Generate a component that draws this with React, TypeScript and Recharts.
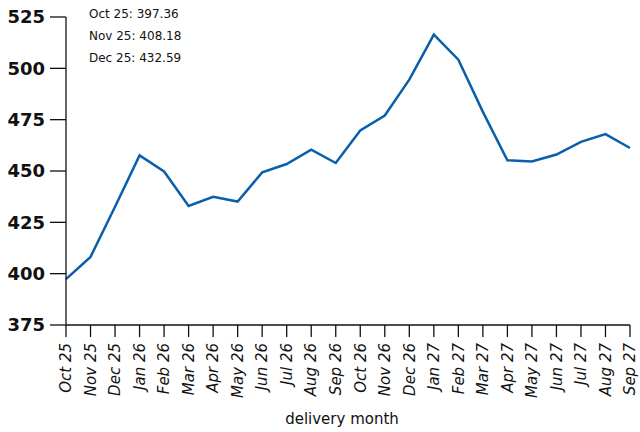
import React from 'react';
import { LineChart, Line, XAxis, YAxis } from 'recharts';

const months = [
  'Oct 25', 'Nov 25', 'Dec 25', 'Jan 26', 'Feb 26', 'Mar 26', 'Apr 26', 'May 26',
  'Jun 26', 'Jul 26', 'Aug 26', 'Sep 26', 'Oct 26', 'Nov 26', 'Dec 26', 'Jan 27',
  'Feb 27', 'Mar 27', 'Apr 27', 'May 27', 'Jun 27', 'Jul 27', 'Aug 27', 'Sep 27',
];
const prices = [
  397.36, 408.18, 432.59, 457.6, 449.8, 433.0, 437.4, 435.1,
  449.3, 453.4, 460.4, 453.9, 469.7, 477.0, 494.5, 516.4,
  504.2, 478.8, 455.2, 454.6, 458.0, 464.2, 468.0, 461.2,
];
const yTicks = [375, 400, 425, 450, 475, 500, 525];
const annotatedCount = 3;

const data = months.map((m, i) => ({ month: m, price: prices[i] }));
const FONT = '"DejaVu Sans", sans-serif';

const XTick = (props: any) => {
  const { x, y, payload } = props;
  return (
    <text
      x={x}
      y={y}
      dy="0.35em"
      textAnchor="end"
      transform={`rotate(-90, ${x}, ${y})`}
      fontSize={15}
      fontStyle="italic"
      fontFamily={FONT}
      fill="#111"
    >
      {payload.value}
    </text>
  );
};

export default function App() {
  return (
    <div style={{ position: 'fixed', left: 0, top: 0, width: 640, height: 432, background: '#fff' }}>
      <LineChart
        width={640}
        height={432}
        data={data}
        margin={{ top: 17, right: 10, bottom: 0, left: 0 }}
      >
        <XAxis
          dataKey="month"
          interval={0}
          height={107}
          tickSize={12}
          tickMargin={6}
          tick={<XTick />}
          stroke="#111"
          strokeWidth={1.3}
          padding={{ left: 0, right: 0 }}
          label={{
            value: 'delivery month',
            position: 'insideBottom',
            offset: 8,
            dx: -6,
            fontSize: 15,
            fontFamily: FONT,
            fill: '#111',
          }}
        />
        <YAxis
          domain={[375, 525]}
          ticks={yTicks}
          width={66}
          tickSize={16}
          tickMargin={5}
          stroke="#111"
          strokeWidth={1.3}
          tick={{ fontSize: 18, fontWeight: 'bold', fontFamily: FONT, fill: '#111' }}
        />
        <Line
          type="linear"
          dataKey="price"
          stroke="#0a5fab"
          strokeWidth={2.5}
          dot={false}
          activeDot={false}
          isAnimationActive={false}
        />
      </LineChart>
      {months.slice(0, annotatedCount).map((m, i) => (
        <div
          key={m}
          style={{
            position: 'absolute',
            left: 89,
            top: 5 + i * 22,
            fontFamily: FONT,
            fontSize: 12,
            lineHeight: '18px',
            color: '#111',
            whiteSpace: 'nowrap',
          }}
        >
          {`${m}: ${prices[i].toFixed(2)}`}
        </div>
      ))}
    </div>
  );
}
